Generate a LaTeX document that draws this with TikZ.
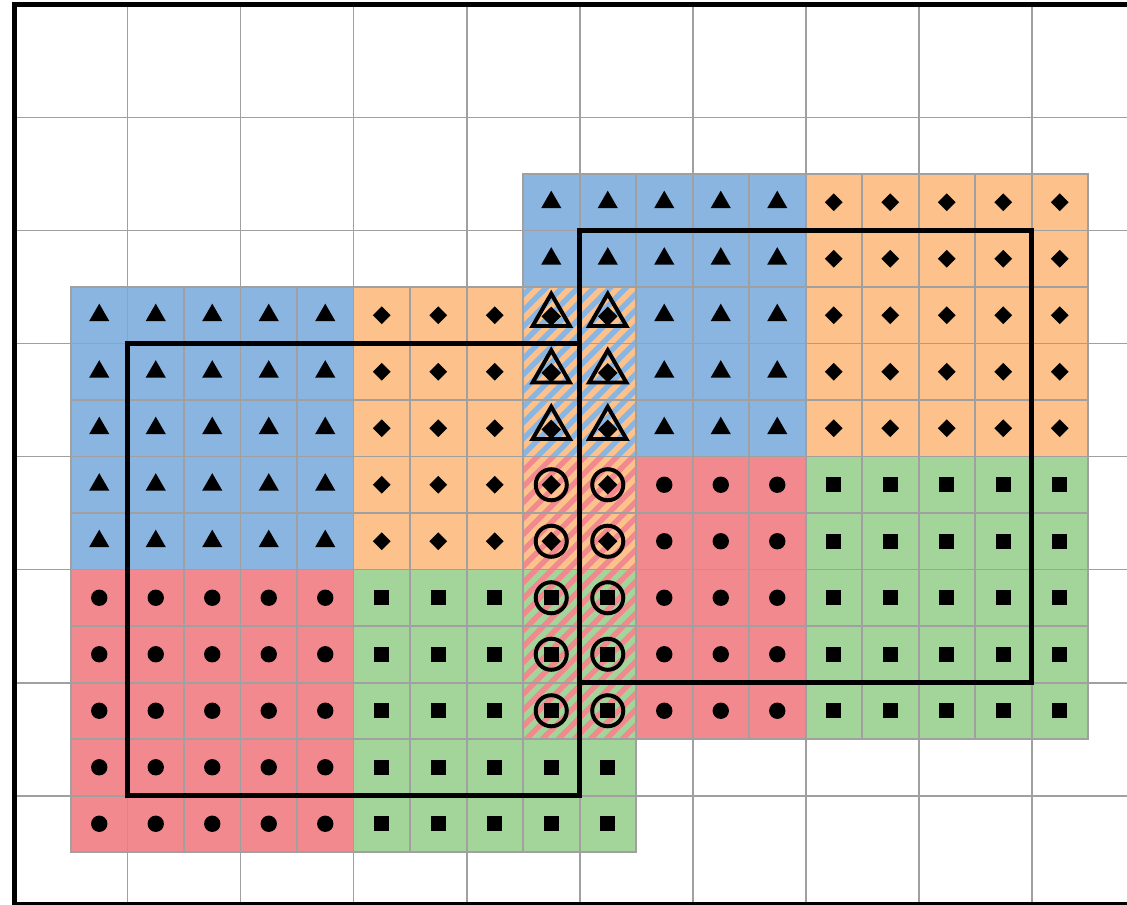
\documentclass[tikz,border=0pt]{standalone}
\usepackage{xcolor}
\usepackage{tikz}
\usetikzlibrary{shapes.geometric}
\definecolor{tileblue}{RGB}{138,181,224}
\definecolor{tileorange}{RGB}{253,193,140}
\definecolor{tilered}{RGB}{242,137,142}
\definecolor{tilegreen}{RGB}{163,212,153}
\definecolor{gridgray}{RGB}{160,160,160}

\begin{document}
\begin{tikzpicture}[
    x=1cm, y=-1cm,
    gridline/.style={draw=gridgray, line width=1pt},
    tile/.style={fill=#1, draw=gridgray, line width=1pt},
    cellline/.style={draw=gridgray, line width=1pt},
    stripe/.style={draw=#1, line width=0.1cm},
    trimark/.style={regular polygon, regular polygon sides=3, fill=black, inner sep=0pt, minimum size=0.41cm},
    diamark/.style={diamond, fill=black, inner sep=0pt, minimum width=0.32cm, minimum height=0.32cm},
    dotmark/.style={circle, fill=black, inner sep=0pt, minimum size=0.29cm},
    sqmark/.style={rectangle, fill=black, inner sep=0pt, minimum size=0.27cm},
    trioutline/.style={regular polygon, regular polygon sides=3, draw=black, line width=2pt, inner sep=0pt, minimum size=0.76cm},
    ringoutline/.style={circle, draw=black, line width=2pt, inner sep=0pt, minimum size=0.55cm},
    zone/.style={draw=black, line width=2.3pt},
    frameline/.style={draw=black, line width=2.8pt}
]

% Canvas
\useasboundingbox (-0.2566,-0.0796) rectangle (19.690,15.938);
\clip (-0.2566,-0.0796) rectangle (19.690,15.938);

% Background grid
\foreach \k in {2,4,...,18} \draw[gridline] (\k,0) -- (\k,16);
\foreach \k in {2,4,...,14} \draw[gridline] (0,\k) -- (20,\k);

% Plain tiles: columns / rows / colour / symbol
\foreach \ia/\ib/\ja/\jb/\col/\sym in {
    1/5/5/9/tileblue/trimark, 6/8/5/9/tileorange/diamark,
    1/5/10/14/tilered/dotmark, 6/8/10/14/tilegreen/sqmark,
    9/10/13/14/tilegreen/sqmark,
    9/13/3/4/tileblue/trimark, 11/13/5/7/tileblue/trimark,
    14/18/3/7/tileorange/diamark, 11/13/8/12/tilered/dotmark,
    14/18/8/12/tilegreen/sqmark} {
    \foreach \i in {\ia,...,\ib} \foreach \j in {\ja,...,\jb} {
        \draw[tile=\col] (\i,\j) rectangle ++(1,1);
        \node[\sym] (m-\i-\j) at (\i+0.5,\j+0.5) {};
    }
}

% Overlap tiles: rows / base colour / stripe colour
\foreach \ja/\jb/\cola/\colb in {5/7/tileblue/tileorange, 8/9/tilered/tileorange, 10/12/tilered/tilegreen} {
    \fill[\cola] (9,\ja) rectangle (11,\jb+1);
    \begin{scope}
        \clip (9,\ja) rectangle (11,\jb+1);
        \foreach \k in {0,...,36} \draw[stripe=\colb] ({10+0.2828*\k},4) -- ({0.2828*\k},14);
    \end{scope}
}
\foreach \i in {9,10} \foreach \j in {5,...,12} \draw[cellline] (\i,\j) rectangle ++(1,1);

% Overlap symbols
\foreach \i in {9,10} {
    \foreach \j in {5,6,7} {
        \node[trioutline] (o-\i-\j) at (\i+0.5,\j+0.5) {};
        \node[diamark, minimum width=0.35cm, minimum height=0.35cm] (d-\i-\j) at (\i+0.5,\j+0.52) {};
    }
    \foreach \j in {8,9} {
        \node[ringoutline] (o-\i-\j) at (\i+0.5,\j+0.5) {};
        \node[diamark, minimum width=0.35cm, minimum height=0.35cm] (d-\i-\j) at (\i+0.5,\j+0.5) {};
    }
    \foreach \j in {10,11,12} {
        \node[ringoutline] (o-\i-\j) at (\i+0.5,\j+0.5) {};
        \node[sqmark] (d-\i-\j) at (\i+0.5,\j+0.5) {};
    }
}

% Windows
\draw[zone] (2,6) rectangle (10,14);
\draw[zone] (10,4) rectangle (18,12);

% Frame
\draw[frameline] (20,0) -- (0,0) -- (0,15.93) -- (20,15.93);

\end{tikzpicture}
\end{document}
